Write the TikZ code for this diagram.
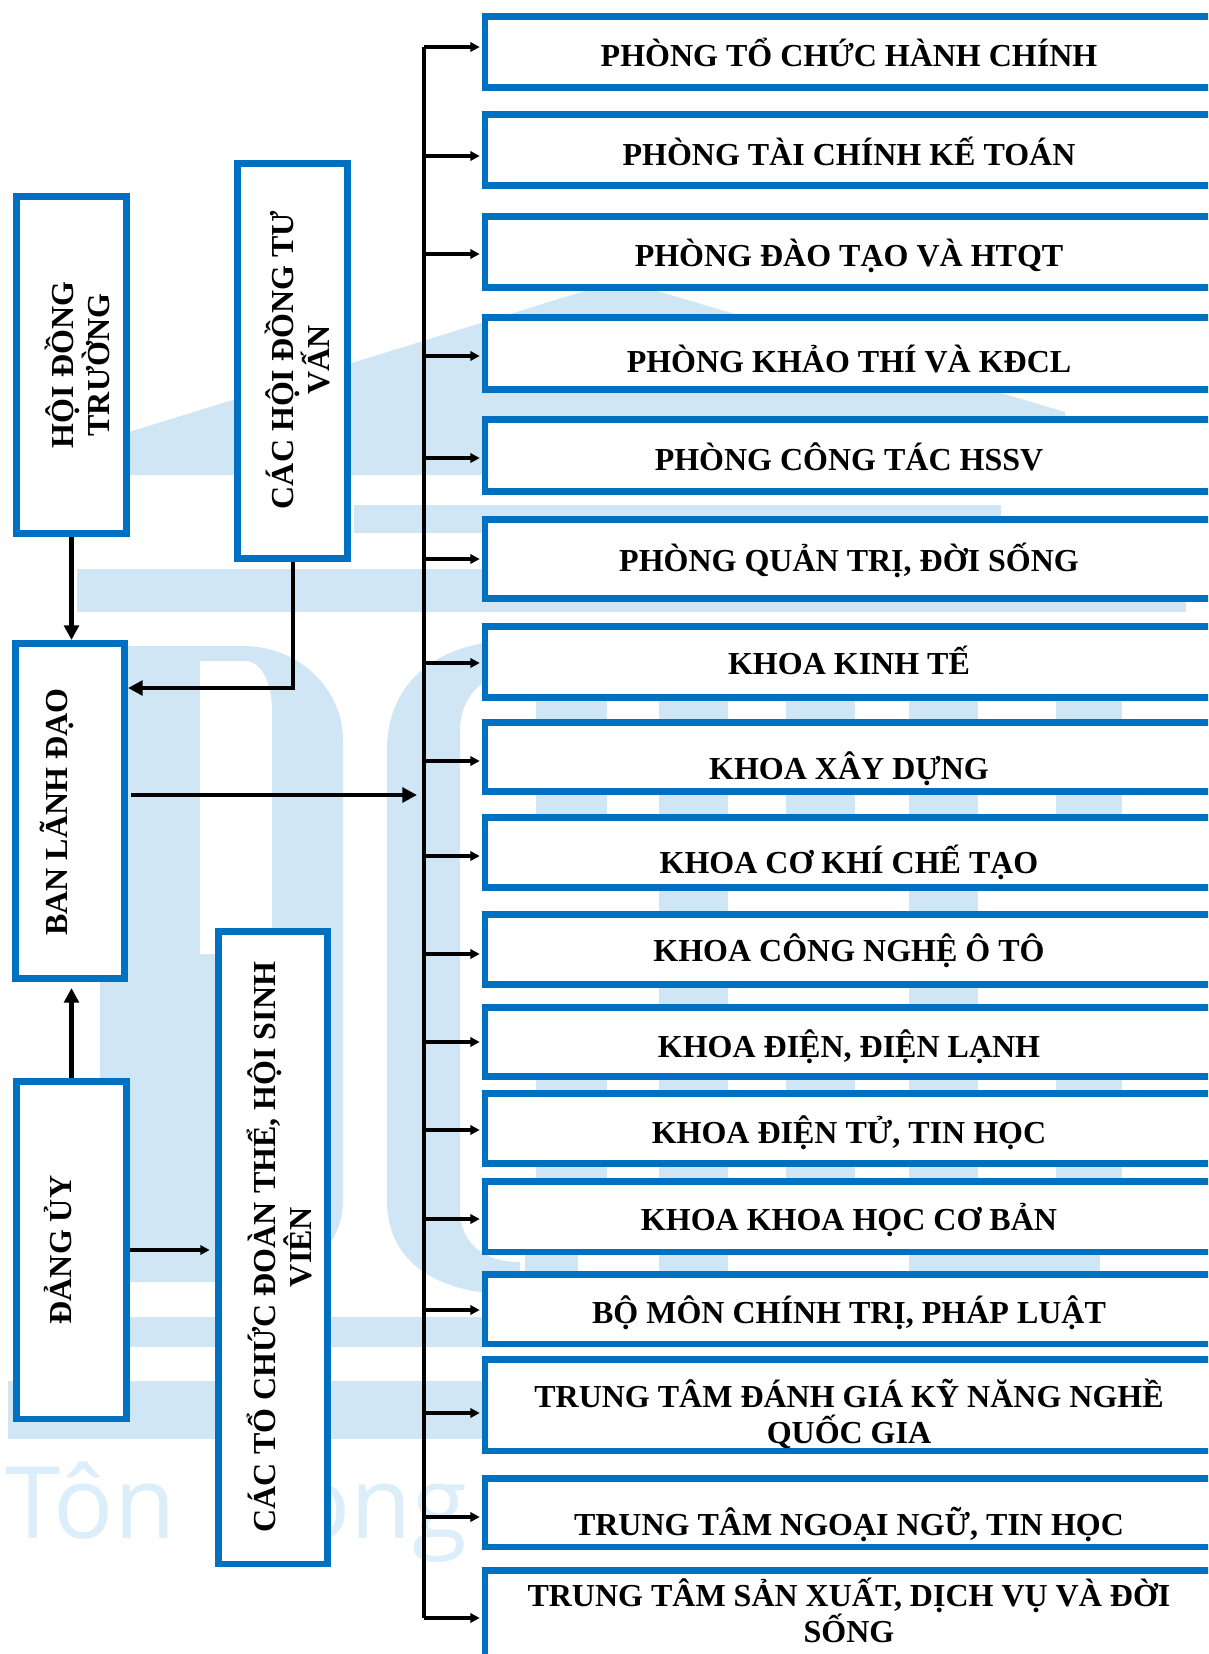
\documentclass[tikz,border=0pt]{standalone}
\usepackage{fontspec}
\setmainfont{Liberation Serif}
\newfontfamily\wmfont{Open Sans}
\usetikzlibrary{arrows.meta}
\definecolor{boxblue}{HTML}{0070C0}
\definecolor{wm}{HTML}{D0E6F4}
\definecolor{wmtext}{HTML}{DCEEF9}
\begin{document}
\begin{tikzpicture}[x=0.75pt,y=-0.75pt,
  box/.style={draw=boxblue, line width=4.9pt, fill=white, inner sep=0pt},
  txt/.style={font=\fontsize{24}{27}\selectfont\bfseries, align=center, inner sep=0pt},
  lbl/.style={txt, rotate=90},
  arr/.style={line width=2.6pt, -{Triangle[length=7pt,width=7pt]}, shorten >=1.5pt},
  bigarr/.style={line width=3.6pt, -{Triangle[length=11pt,width=11pt]}},
  bus/.style={line width=3pt},
  wmtxt/.style={text=wmtext, font=\wmfont\fontsize{75}{80}\selectfont, inner sep=0pt, anchor=base west}]

\clip (0,0) rectangle (1208,1654);
\fill[white] (0,0) rectangle (1208,1654);

% ---------- watermark ----------
\fill[wm] (100,475) -- (100,441) -- (620,280) -- (1065,412) -- (1065,475) -- cycle;
\fill[wm] (354,505) rectangle (1001,533);
\fill[wm] (77,569) rectangle (1186,612);
\fill[wm] (100,646) -- (243,646) .. controls (300,646) and (343,690) .. (343,740) -- (343,1200)
  .. controls (343,1250) and (300,1282) .. (243,1282) -- (100,1282) -- cycle;
\fill[white] (200,661) -- (245,661) .. controls (262,661) and (272,685) .. (272,710) -- (272,1200)
  -- (215,1200) -- (215,954) -- (200,954) -- cycle;
\fill[wm] (520,640) .. controls (440,640) and (387,680) .. (387,750) -- (387,1200)
  .. controls (387,1265) and (440,1295) .. (520,1295) -- (520,1262)
  .. controls (480,1262) and (460,1240) .. (460,1210) -- (460,730)
  .. controls (460,700) and (480,672) .. (520,672) -- cycle;
\foreach \a/\b in {659/728, 909/978}
  \fill[wm] (\a,690) rectangle (\b,1272);
\foreach \a/\b in {536/607, 786/855, 1056/1122}{
  \fill[wm] (\a,690) rectangle (\b,880);
  \fill[wm] (\a,1012) rectangle (\b,1250);}
\fill[wm] (525,1250) rectangle (578,1272);
\fill[wm] (945,1255) rectangle (1100,1272);
\fill[wm] (130,1317) rectangle (483,1347);
\fill[wm] (8,1381) rectangle (483,1439);
\node[wmtxt] (wm1) at (5,1538) {Tôn};
\node[wmtxt] (wm2) at (290,1538) {ong};

% ---------- left boxes ----------
\node[box, minimum width=82.875pt, minimum height=253.125pt] (hdt) at (71.5,365) {};
\node[box, minimum width=82.875pt, minimum height=296.625pt] (chdtv) at (292.5,361) {};
\node[box, minimum width=82.125pt, minimum height=251.625pt] (bld) at (70,811) {};
\node[box, minimum width=82.875pt, minimum height=253.125pt] (du) at (71.5,1250) {};
\node[box, minimum width=82.125pt, minimum height=474.375pt] (ctcdt) at (273,1247.5) {};

\node[lbl] (thdt) at (77,365) {HỘI ĐỒNG\\TRƯỜNG};
\node[lbl] (tchdtv) at (297,360) {CÁC HỘI ĐỒNG TƯ\\VẤN};
\node[lbl] (tbld) at (57,812) {BAN LÃNH ĐẠO};
\node[lbl] (tdu) at (58,1250) {ĐẢNG ỦY};
\node[lbl] (tctcdt) at (279,1247) {CÁC TỔ CHỨC ĐOÀN THỂ, HỘI SINH\\VIÊN};

% ---------- right boxes ----------
\node[box, minimum width=546pt, minimum height=53.625pt] (r1) at (849,52) {};
\node[box, minimum width=546pt, minimum height=53.625pt] (r2) at (849,150) {};
\node[box, minimum width=546pt, minimum height=53.625pt] (r3) at (849,252) {};
\node[box, minimum width=546pt, minimum height=54.375pt] (r4) at (849,353.5) {};
\node[box, minimum width=546pt, minimum height=54.375pt] (r5) at (849,455.5) {};
\node[box, minimum width=546pt, minimum height=59.625pt] (r6) at (849,559) {};
\node[box, minimum width=546pt, minimum height=53.625pt] (r7) at (849,662) {};
\node[box, minimum width=546pt, minimum height=52.125pt] (r8) at (849,757) {};
\node[box, minimum width=546pt, minimum height=52.875pt] (r9) at (849,852.5) {};
\node[box, minimum width=546pt, minimum height=52.875pt] (r10) at (849,949.5) {};
\node[box, minimum width=546pt, minimum height=52.125pt] (r11) at (849,1042) {};
\node[box, minimum width=546pt, minimum height=52.875pt] (r12) at (849,1128.5) {};
\node[box, minimum width=546pt, minimum height=52.875pt] (r13) at (849,1216.5) {};
\node[box, minimum width=546pt, minimum height=52.125pt] (r14) at (849,1309) {};
\node[box, minimum width=546pt, minimum height=68.625pt] (r15) at (849,1405) {};
\node[box, minimum width=546pt, minimum height=51.375pt] (r16) at (849,1512.5) {};
\node[box, minimum width=546pt, minimum height=64.875pt] (r17) at (849,1613.5) {};

\node[txt] (t1) at (849,52) {PHÒNG TỔ CHỨC HÀNH CHÍNH};
\node[txt] (t2) at (849,151) {PHÒNG TÀI CHÍNH KẾ TOÁN};
\node[txt] (t3) at (849,256) {PHÒNG ĐÀO TẠO VÀ HTQT};
\node[txt] (t4) at (849,359.5) {PHÒNG KHẢO THÍ VÀ KĐCL};
\node[txt] (t5) at (849,456.5) {PHÒNG CÔNG TÁC HSSV};
\node[txt] (t6) at (849,560) {PHÒNG QUẢN TRỊ, ĐỜI SỐNG};
\node[txt] (t7) at (849,660) {KHOA KINH TẾ};
\node[txt] (t8) at (849,768.5) {KHOA XÂY DỰNG};
\node[txt] (t9) at (849,862) {KHOA CƠ KHÍ CHẾ TẠO};
\node[txt] (t10) at (849,950.5) {KHOA CÔNG NGHỆ Ô TÔ};
\node[txt] (t11) at (849,1046.5) {KHOA ĐIỆN, ĐIỆN LẠNH};
\node[txt] (t12) at (849,1132.5) {KHOA ĐIỆN TỬ, TIN HỌC};
\node[txt] (t13) at (849,1220) {KHOA KHOA HỌC CƠ BẢN};
\node[txt] (t14) at (849,1313) {BỘ MÔN CHÍNH TRỊ, PHÁP LUẬT};
\node[txt] (t15) at (849,1413.5) {TRUNG TÂM ĐÁNH GIÁ KỸ NĂNG NGHỀ\\QUỐC GIA};
\node[txt] (t16) at (849,1524.5) {TRUNG TÂM NGOẠI NGỮ, TIN HỌC};
\node[txt] (t17) at (849,1610) {TRUNG TÂM SẢN XUẤT, DỊCH VỤ VÀ ĐỜI\\SỐNG};

% ---------- left connectors ----------
\draw[bigarr] (hdt.south) -- (hdt.south |- bld.north);
\coordinate (j1) at (293,688);
\draw[bigarr] (chdtv.south -| j1) -- (j1) -- (j1 -| bld.east);
\coordinate (bldout) at (131,795);
\coordinate (busin) at (417,795);
\draw[bigarr] (bldout) -- (busin);
\draw[bigarr, shorten >=4.5pt] (du.north) -- (du.north |- bld.south);
\draw[arr, shorten >=4pt] (du.east) -- (du.east -| ctcdt.west);

% ---------- bus and right connectors ----------
\foreach \i/\y in {1/47,2/156,3/254,4/356,5/458,6/559,7/663,8/761,9/856,10/954,11/1042,12/1130,13/1219,14/1310,15/1413,16/1517,17/1618}
  \coordinate (a\i) at (424,\y);
\draw[bus] (a1) -- (a17);
\foreach \i in {1,...,17}
  \draw[arr] (a\i) -- (a\i -| r\i.west);
\end{tikzpicture}
\end{document}
